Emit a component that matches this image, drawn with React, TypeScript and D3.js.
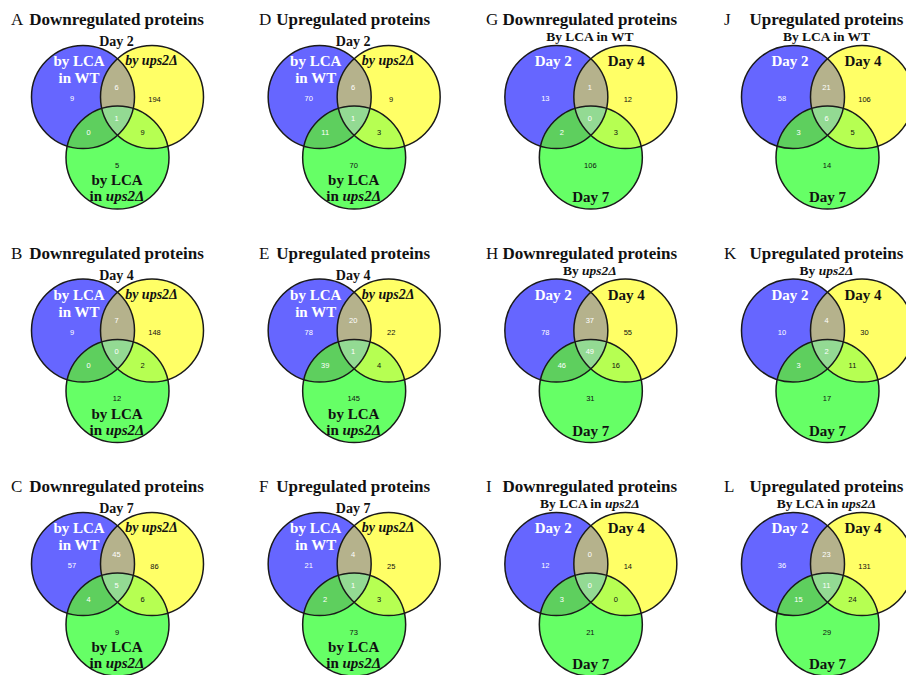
import React from "react";
import * as d3 from "d3";

// ---- data ----
const panelLetters = ["A", "B", "C", "D", "E", "F", "G", "H", "I", "J", "K", "L"];
const panelDirections = [
  "Downregulated proteins", "Downregulated proteins", "Downregulated proteins",
  "Upregulated proteins", "Upregulated proteins", "Upregulated proteins",
  "Downregulated proteins", "Downregulated proteins", "Downregulated proteins",
  "Upregulated proteins", "Upregulated proteins", "Upregulated proteins",
];
const panelSubtitles = [
  "Day 2", "Day 4", "Day 7",
  "Day 2", "Day 4", "Day 7",
  "By LCA in WT", "By ups2Δ", "By LCA in ups2Δ",
  "By LCA in WT", "By ups2Δ", "By LCA in ups2Δ",
];
// set labels for the two comparison types
const strainSetLabels = [["by LCA", "in WT"], ["by ups2Δ"], ["by LCA", "in ups2Δ"]];
const daySetLabels = [["Day 2"], ["Day 4"], ["Day 7"]];
// region order: [A only, A∩B, B only, A∩B∩C, A∩C, B∩C, C only]
const regionNames = ["a", "ab", "b", "abc", "ac", "bc", "c"];
const countsA = [9, 6, 194, 1, 0, 9, 5];
const countsB = [9, 7, 148, 0, 0, 2, 12];
const countsC = [57, 45, 86, 5, 4, 6, 9];
const countsD = [70, 6, 9, 1, 11, 3, 70];
const countsE = [78, 20, 22, 1, 39, 4, 145];
const countsF = [21, 4, 25, 1, 2, 3, 73];
const countsG = [13, 1, 12, 0, 2, 3, 106];
const countsH = [78, 37, 55, 49, 46, 16, 31];
const countsI = [12, 0, 14, 0, 3, 0, 21];
const countsJ = [58, 21, 106, 6, 3, 5, 14];
const countsK = [10, 4, 30, 2, 3, 11, 17];
const countsL = [36, 23, 131, 11, 15, 24, 29];
const allCounts = [countsA, countsB, countsC, countsD, countsE, countsF, countsG, countsH, countsI, countsJ, countsK, countsL];

// ---- layout ----
const W = 906, H = 675;
const xCol = d3.scaleLinear().domain([0, 3]).range([117.5, 827.5]);
const yRow = d3.scaleLinear().domain([0, 2]).range([97, 564]);
const letterX = [11, 259, 486, 724];
const R = 51.5;
const DX = 34.5, DY = 60.5;
const circleOffsets = [[-DX, 0], [DX, 0], [0, DY]];
const regionOffsets: Record<string, [number, number]> = {
  a: [-45.5, 1.5], ab: [-1, -10], b: [37, 2], abc: [-1, 21], ac: [-29, 35], bc: [25, 35], c: [-0.5, 68],
};
const whiteRegions = new Set(["a", "ab", "abc", "ac"]);
const FILL = { a: "#6666ff", b: "#ffff66", c: "#66ff66", ab: "#b5b28c", ac: "#5ecf5e", bc: "#b6ff52", abc: "#93da93" };
const SERIF = "'Liberation Serif', 'Times New Roman', serif";
const SANS = "'Liberation Sans', Arial, sans-serif";

function Rich({ text }: { text: string }) {
  const parts = text.split(/(ups2Δ)/);
  return (
    <>
      {parts.filter((p) => p.length).map((p, i) => (
        <tspan key={i} fontStyle={p === "ups2Δ" ? "italic" : "normal"}>{p}</tspan>
      ))}
    </>
  );
}

function Panel({ idx }: { idx: number }) {
  const col = Math.floor(idx / 3);
  const row = idx % 3;
  const cx = xCol(col);
  const cy = yRow(row);
  const counts = allCounts[idx];
  const isDay = col >= 2;
  const labels = isDay ? daySetLabels : strainSetLabels;
  const id = `p${idx}`;
  const circ = (k: number, props: any = {}) => (
    <circle cx={circleOffsets[k][0]} cy={circleOffsets[k][1]} r={R} {...props} />
  );
  return (
    <g>
      <text x={letterX[col]} y={cy - 72} fontFamily={SERIF} fontSize={17} fill="#111">{panelLetters[idx]}</text>
      <text x={cx - 1} y={cy - 72} textAnchor="middle" fontFamily={SERIF} fontSize={17} fontWeight="bold" fill="#111">
        {panelDirections[idx]}
      </text>
      <text x={cx - 1} y={cy + (isDay ? -56 : -51)} textAnchor="middle" fontFamily={SERIF} fontSize={isDay ? 13.5 : 14} fontWeight="bold" fill="#111">
        <Rich text={panelSubtitles[idx]} />
      </text>
      <g transform={`translate(${cx},${cy})`}>
        <defs>
          <clipPath id={`${id}-a`}>{circ(0)}</clipPath>
          <clipPath id={`${id}-b`}>{circ(1)}</clipPath>
        </defs>
        {circ(0, { fill: FILL.a })}
        {circ(1, { fill: FILL.b })}
        {circ(2, { fill: FILL.c })}
        {circ(1, { fill: FILL.ab, clipPath: `url(#${id}-a)` })}
        {circ(2, { fill: FILL.ac, clipPath: `url(#${id}-a)` })}
        {circ(2, { fill: FILL.bc, clipPath: `url(#${id}-b)` })}
        <g clipPath={`url(#${id}-a)`}>{circ(2, { fill: FILL.abc, clipPath: `url(#${id}-b)` })}</g>
        {[0, 1, 2].map((k) => circ(k, { key: k, fill: "none", stroke: "#1a1a1a", strokeWidth: 1.5 }))}
        {regionNames.map((name, i) => (
          <text key={name} x={regionOffsets[name][0]} y={regionOffsets[name][1]} dy="0.35em" textAnchor="middle"
            fontFamily={SANS} fontSize={7.5} fill={whiteRegions.has(name) ? "#ffffff" : "#111"}>
            {counts[i]}
          </text>
        ))}
        {isDay ? (
          <>
            <text x={-37.5} y={-31} textAnchor="middle" fontFamily={SERIF} fontSize={15} fontWeight="bold" fill="#ffffff">{labels[0][0]}</text>
            <text x={35.5} y={-31} textAnchor="middle" fontFamily={SERIF} fontSize={15} fontWeight="bold" fill="#111">{labels[1][0]}</text>
            <text x={0} y={105} textAnchor="middle" fontFamily={SERIF} fontSize={15} fontWeight="bold" fill="#111">{labels[2][0]}</text>
          </>
        ) : (
          <>
            <text x={-38.5} y={-31} textAnchor="middle" fontFamily={SERIF} fontSize={15} fontWeight="bold" fill="#ffffff">{labels[0][0]}</text>
            <text x={-38.5} y={-14} textAnchor="middle" fontFamily={SERIF} fontSize={15} fontWeight="bold" fill="#ffffff">{labels[0][1]}</text>
            <text x={34} y={-32} textAnchor="middle" fontFamily={SERIF} fontSize={14} fontWeight="bold" fontStyle="italic" fill="#111">{labels[1][0]}</text>
            <text x={-0.5} y={88} textAnchor="middle" fontFamily={SERIF} fontSize={15} fontWeight="bold" fill="#111">{labels[2][0]}</text>
            <text x={-0.5} y={104} textAnchor="middle" fontFamily={SERIF} fontSize={15} fontWeight="bold" fill="#111"><Rich text={labels[2][1]} /></text>
          </>
        )}
      </g>
    </g>
  );
}

export default function App() {
  return (
    <svg width={W} height={H} viewBox={`0 0 ${W} ${H}`} style={{ position: "absolute", left: 0, top: 0, background: "#fff" }}>
      <rect width={W} height={H} fill="#fff" />
      {panelLetters.map((_, i) => <Panel key={i} idx={i} />)}
    </svg>
  );
}
